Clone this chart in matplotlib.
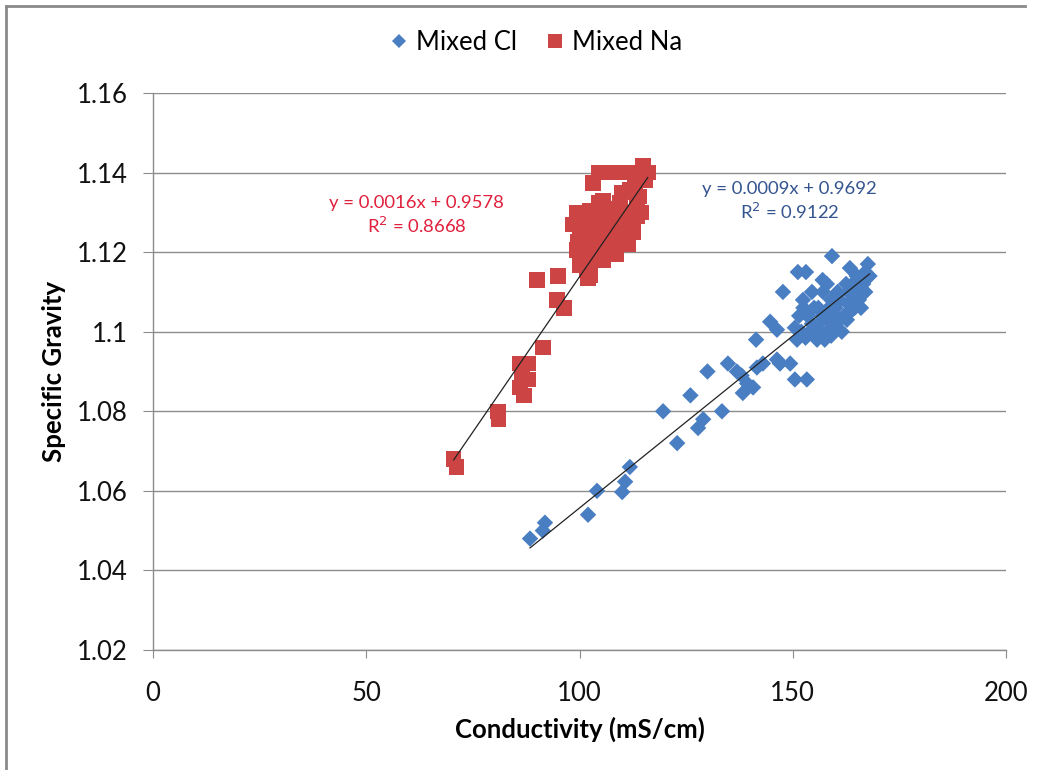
import matplotlib
matplotlib.use("Agg")
import matplotlib.pyplot as plt
from matplotlib.lines import Line2D
import numpy as np

# ---- data ----
cl_x = [88.4, 91.4, 91.9, 102.0, 104.1, 110.0, 110.7, 111.8, 119.6, 122.9, 126.0, 127.8, 129.0,
        130.0, 133.4, 134.8, 136.9, 138.0, 138.3, 139.3, 140.7, 141.6, 143.0, 141.4, 144.7, 146.3,
        146.3, 147.0, 149.4, 150.5, 153.3, 147.7,
        151.2, 153.1, 159.2, 163.4, 165.0, 167.6, 166.5, 152.4, 154.5, 157.1, 159.0, 161.0, 163.0,
        151.5, 153.5, 156.0, 158.0, 160.0, 162.0, 164.0, 166.0, 168.0, 152.0, 154.0, 156.0, 158.0,
        160.0, 162.7, 164.5, 151.0, 153.0, 155.7, 157.5, 159.0, 167.0, 165.5, 161.5, 163.5, 157.0,
        155.0, 157.0, 159.0, 161.0, 163.0, 165.0, 167.0, 154.5, 156.5, 158.5, 160.5, 162.5, 152.5,
        150.5, 164.0, 166.0, 160.0, 158.0]
cl_y = [1.048, 1.050, 1.052, 1.054, 1.060, 1.0597, 1.0623, 1.066, 1.080, 1.072, 1.084, 1.0758, 1.078,
        1.090, 1.080, 1.092, 1.090, 1.089, 1.0846, 1.087, 1.086, 1.091, 1.092, 1.098, 1.1025, 1.1005,
        1.093, 1.092, 1.092, 1.088, 1.088, 1.110,
        1.115, 1.115, 1.119, 1.116, 1.114, 1.117, 1.112, 1.108, 1.110, 1.110, 1.108, 1.108, 1.110,
        1.104, 1.104, 1.106, 1.104, 1.106, 1.104, 1.108, 1.110, 1.114, 1.100, 1.100, 1.102, 1.100,
        1.102, 1.103, 1.106, 1.098, 1.0985, 1.098, 1.098, 1.099, 1.110, 1.108, 1.100, 1.105, 1.113,
        1.106, 1.104, 1.102, 1.103, 1.107, 1.111, 1.115, 1.102, 1.100, 1.106, 1.110, 1.112, 1.106,
        1.101, 1.112, 1.106, 1.104, 1.112]

na_x = [70.5, 71.2, 80.9, 81.0, 86.0, 88.0, 86.5, 88.0, 86.0, 87.0, 91.4, 90.0, 95.0, 94.7, 96.4,
        99.4, 99.4, 101.8, 102.0, 103.2, 104.5, 107.0, 109.5, 112.0, 114.9, 116.0, 115.5, 111.8,
        113.5, 110.0, 105.5, 98.5, 101.0, 103.5, 106.0, 108.5, 111.0, 113.5, 100.5, 103.0, 105.5,
        108.0, 110.5, 112.5, 114.5, 99.5, 102.0, 104.5, 107.0, 109.5, 111.5, 105.5, 103.5, 108.5,
        100.1, 102.5, 100.0, 101.5, 104.0, 106.5, 109.0, 111.0, 113.0, 112.5, 114.0, 106.0, 108.0,
        110.0, 102.5, 104.5, 107.0, 109.5]
na_y = [1.068, 1.066, 1.080, 1.078, 1.092, 1.092, 1.089, 1.088, 1.086, 1.084, 1.096, 1.113, 1.114, 1.108, 1.106,
        1.130, 1.1206, 1.1155, 1.1135, 1.1374, 1.140, 1.140, 1.140, 1.140, 1.1417, 1.140, 1.138, 1.1356,
        1.1324, 1.135, 1.133, 1.127, 1.128, 1.129, 1.130, 1.131, 1.130, 1.129, 1.125, 1.124, 1.126,
        1.125, 1.126, 1.127, 1.130, 1.1225, 1.121, 1.1215, 1.1205, 1.122, 1.122, 1.118, 1.118, 1.1195,
        1.1168, 1.1143, 1.124, 1.119, 1.126, 1.124, 1.128, 1.127, 1.137, 1.125, 1.134, 1.128, 1.1235,
        1.1235, 1.1305, 1.1325, 1.1265, 1.1325]

# trendline coefficients (slope, intercept) as drawn in the reference
cl_fit = [0.000865, 0.9692]
na_fit = [0.00156, 0.9578]
cl_eq = "y = 0.0009x + 0.9692\nR$^2$ = 0.9122"
na_eq = "y = 0.0016x + 0.9578\nR$^2$ = 0.8668"

x_ticks = [0, 50, 100, 150, 200]
y_ticks = [1.02, 1.04, 1.06, 1.08, 1.1, 1.12, 1.14, 1.16]
y_tick_labels = ["1.02", "1.04", "1.06", "1.08", "1.1", "1.12", "1.14", "1.16"]

# ---- style ----
FONT = ["Lato", "DejaVu Sans"]
plt.rcParams['font.family'] = FONT
blue = "#4A7EC2"
red = "#CC4444"
grid_c = "#8C8C8C"

fig = plt.figure(figsize=(10.41, 7.70), dpi=100)
ax = fig.add_axes([153/1041, 1-650/770, (1006-153)/1041, (650-93)/770])

ax.set_xlim(0, 200)
ax.set_ylim(1.02, 1.16)
ax.set_xticks(x_ticks)
ax.set_yticks(y_ticks)
ax.set_yticklabels(y_tick_labels)
ax.grid(axis='y', color=grid_c, linewidth=1.0)
ax.set_axisbelow(True)
for s in ['top', 'right']:
    ax.spines[s].set_visible(False)
for s in ['left', 'bottom']:
    ax.spines[s].set_color(grid_c)
    ax.spines[s].set_linewidth(1.0)
ax.tick_params(axis='y', direction='out', length=7, color=grid_c, labelsize=18.5, pad=11, labelcolor="#111111")
ax.tick_params(axis='x', direction='out', length=6, color=grid_c, labelsize=18.5, pad=16, labelcolor="#111111")

ax.scatter(cl_x, cl_y, marker='D', s=70, color=blue, edgecolors='none', zorder=3)
ax.scatter(na_x, na_y, marker='s', s=125, color=red, edgecolors='none', zorder=3)

# trendlines
for xs, fit in ((cl_x, cl_fit), (na_x, na_fit)):
    xx = np.array([min(xs), max(xs)])
    ax.plot(xx, fit[0]*xx + fit[1], color="#222222", linewidth=0.9, zorder=4)

ax.text(61.8, 1.1292, na_eq, color="#E0203C", fontsize=13.3, ha='center', va='center',
        linespacing=1.3, zorder=5)
ax.text(149.3, 1.1327, cl_eq, color="#33548F", fontsize=13.3, ha='center', va='center',
        linespacing=1.3, zorder=5)

ax.set_xlabel("Conductivity (mS/cm)", fontsize=18.5, fontweight='bold', labelpad=8)
ax.set_ylabel("Specific Gravity", fontsize=18.5, fontweight='bold', labelpad=8)

handles = [Line2D([], [], marker='D', linestyle='none', color=blue, markersize=7, markeredgewidth=0),
           Line2D([], [], marker='s', linestyle='none', color=red, markersize=10, markeredgewidth=0)]
fig.legend(handles, ["Mixed Cl", "Mixed Na"], loc='center', bbox_to_anchor=(0.512, 1-42/770),
           ncol=2, frameon=False, fontsize=18.5, handletextpad=0.05, columnspacing=0.9,
           handlelength=1.2)

# chart border (left and top)
fig.add_artist(Line2D([6/1041, 6/1041], [0, 1-6/770], color="#8A8A8A", linewidth=2.0))
fig.add_artist(Line2D([6/1041, 1025/1041], [1-6/770, 1-6/770], color="#8A8A8A", linewidth=2.0))

fig.savefig("out.png", dpi=100, facecolor="white")
